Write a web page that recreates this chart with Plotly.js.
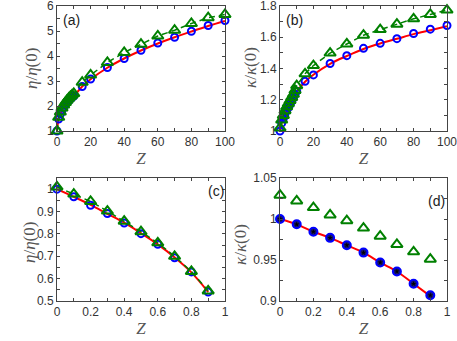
<!DOCTYPE html>
<html><head><meta charset="utf-8">
<script src="https://cdn.plot.ly/plotly-3.0.1.min.js"></script>
<style>html,body{margin:0;padding:0;background:#fff}#g{width:457px;height:341px}</style>
</head><body><div id="g"></div>
<script>
// Panel (a) & (b): large Z
const zAB = [0,1,2,3,4,5,6,7,8,9,10,15,20,30,40,50,60,70,80,90,100];
const etaBlueA = [1.00,1.48,1.68,1.83,1.95,2.05,2.14,2.22,2.29,2.35,2.40,2.78,3.08,3.54,3.90,4.23,4.52,4.75,4.99,5.22,5.42];
const etaGreenA = [1.00,1.55,1.76,1.92,2.04,2.14,2.23,2.31,2.38,2.44,2.50,2.95,3.24,3.74,4.14,4.47,4.80,5.03,5.30,5.53,5.66];
const zRedAB = [0,0.5,1,2,3,4,5,6,8,10,15,20,30,40,50,60,70,80,90,100];
const etaRedA = [1.00,1.30,1.45,1.66,1.82,1.95,2.05,2.15,2.30,2.40,2.78,3.07,3.53,3.90,4.22,4.50,4.75,4.98,5.20,5.40];
const kBlueB = [1.00,1.05,1.08,1.11,1.13,1.15,1.17,1.19,1.21,1.235,1.255,1.318,1.359,1.432,1.482,1.529,1.561,1.591,1.624,1.652,1.675];
const kGreenB = [1.02,1.07,1.10,1.13,1.155,1.175,1.195,1.215,1.235,1.26,1.29,1.366,1.419,1.499,1.557,1.613,1.649,1.684,1.718,1.746,1.774];
const kRedB = [1.00,1.03,1.05,1.08,1.11,1.13,1.15,1.17,1.21,1.25,1.315,1.36,1.43,1.48,1.525,1.56,1.59,1.62,1.645,1.67];
// Panel (c) & (d): small Z
const zCD = [0,0.1,0.2,0.3,0.4,0.5,0.6,0.7,0.8,0.9];
const etaBlueC = [1.00,0.966,0.928,0.891,0.849,0.801,0.754,0.693,0.630,0.540];
const etaGreenC = [1.01,0.978,0.945,0.902,0.857,0.810,0.760,0.700,0.632,0.545];
const etaRedC = [1.00,0.966,0.930,0.890,0.850,0.803,0.753,0.695,0.628,0.540];
const kBlueD = [1.000,0.9935,0.9845,0.977,0.968,0.959,0.947,0.936,0.921,0.907];
const kGreenD = [1.029,1.022,1.014,1.005,0.998,0.989,0.979,0.969,0.960,0.951];
const kRedD = [1.000,0.9935,0.9845,0.977,0.968,0.959,0.947,0.936,0.921,0.906];
// Labels
const panelLabels = ['(a)','(b)','(c)','(d)'];
const etaT = '<i>η</i>/<i>η</i>(0)', kT = '<i>κ</i>/<i>κ</i>(0)', zT = '<i>Z</i>';

const RED = 'rgb(255,0,0)', BLUE = 'rgb(0,0,255)', GREEN = 'rgb(0,128,0)';
function red(x,y,xa,ya){return {x:x,y:y,xaxis:xa,yaxis:ya,mode:'lines',line:{color:RED,width:2,shape:'spline'},hoverinfo:'skip'};}
function blue(x,y,xa,ya,fill){return {x:x,y:y,xaxis:xa,yaxis:ya,mode:'markers',cliponaxis:false,
  marker:{symbol:fill?'circle':'circle-open',size:fill?8:7,color:fill?'rgb(20,20,110)':BLUE,line:{color:BLUE,width:2}}};}
function green(x,y,xa,ya,dash){return {x:x,y:y,xaxis:xa,yaxis:ya,mode:dash?'lines+markers':'markers',cliponaxis:false,
  line:{color:GREEN,width:1.5,dash:'6px,4px'},marker:{symbol:'triangle-up-open',size:10,color:GREEN,line:{color:GREEN,width:2}}};}

const data = [
  red(zRedAB,etaRedA,'x','y'), blue(zAB,etaBlueA,'x','y'), green(zAB,etaGreenA,'x','y',true),
  red(zRedAB,kRedB,'x2','y2'), blue(zAB,kBlueB,'x2','y2'), green(zAB,kGreenB,'x2','y2',true),
  red(zCD,etaRedC,'x3','y3'), blue(zCD,etaBlueC,'x3','y3'), green(zCD,etaGreenC,'x3','y3',true),
  red(zCD,kRedD,'x4','y4'), blue(zCD,kBlueD,'x4','y4',true),
  {x:zCD,y:kBlueD,xaxis:'x4',yaxis:'y4',mode:'markers',cliponaxis:false,marker:{symbol:'star',size:4,color:'black'}},
  green(zCD,kGreenD,'x4','y4',false)
];

const tickFont = {family:'Liberation Sans, Arial, sans-serif',size:12,color:'#333'};
const titleFont = {family:'Liberation Serif, DejaVu Serif, serif',size:17,color:'#555'};
function ax(domain,range,dtick,minor,anchor,title,isX){
  const a = {domain:domain,range:range,dtick:dtick,tick0:range[0],anchor:anchor,
    showline:true,linecolor:'#444',linewidth:1,mirror:'ticks',ticks:'inside',ticklen:3,tickcolor:'#444',
    minor:{dtick:minor,ticks:'inside',ticklen:3,tickcolor:'#444'},ticklabeloverflow:'allow',
    showgrid:false,zeroline:false,tickfont:tickFont,automargin:false};
  if(isX) a.title = {text:title,font:titleFont,standoff:3};
  return a;
}
const xa = [0.1247,0.4923], xb = [0.6127,0.9781];
const ytop = [1-131/341,1-6/341], ybot = [1-301/341,1-178/341];
function ytitle(text,xpx,ypx){return {text:text,xref:'paper',yref:'paper',x:xpx/457,y:1-ypx/341,textangle:-90,
  xanchor:'center',yanchor:'middle',showarrow:false,font:titleFont};}
function plabel(text,xpx,ypx,anchor){return {text:text,xref:'paper',yref:'paper',x:xpx/457,y:1-ypx/341,xanchor:anchor,
  yanchor:'middle',showarrow:false,font:{family:'Liberation Sans, Arial',size:14,color:'#222'}};}
const layout = {
  width:457,height:341,margin:{l:0,r:0,t:0,b:0},paper_bgcolor:'white',plot_bgcolor:'white',showlegend:false,
  xaxis: ax(xa,[0,100],20,10,'y',zT,true),
  yaxis: ax(ytop,[1,6],1,0.5,'x'),
  xaxis2: ax(xb,[0,100],20,10,'y2',zT,true),
  yaxis2: ax(ytop,[1,1.8],0.2,0.1,'x2'),
  xaxis3: ax(xa,[0,1],0.2,0.1,'y3',zT,true),
  yaxis3: ax(ybot,[0.5,1.05],0.1,0.05,'x3'),
  xaxis4: ax(xb,[0,1],0.2,0.1,'y4',zT,true),
  yaxis4: ax(ybot,[0.9,1.05],0.05,0.025,'x4'),
  annotations:[
    ytitle(etaT,31,69), ytitle(kT,250,67), ytitle(etaT,29,243), ytitle(kT,240,244),
    plabel(panelLabels[0],61,20,'left'), plabel(panelLabels[1],284,20,'left'),
    plabel(panelLabels[2],226,191,'right'), plabel(panelLabels[3],447,201,'right')
  ]
};
Plotly.newPlot('g',data,layout,{displayModeBar:false,staticPlot:true});
</script></body></html>
